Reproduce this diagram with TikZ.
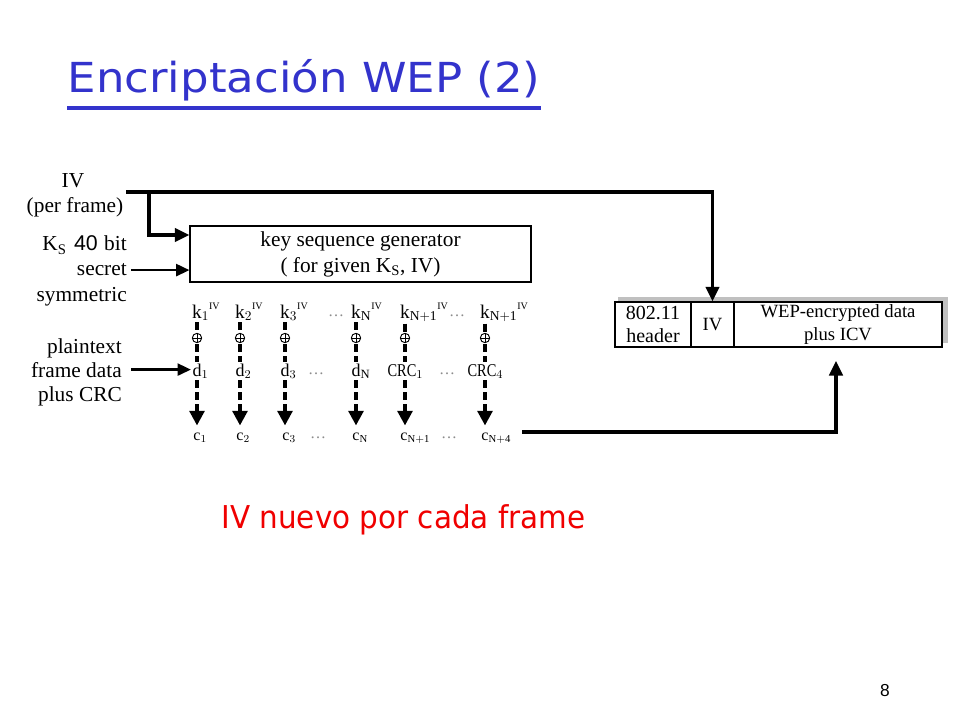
\documentclass[tikz,border=0pt]{standalone}
\usepackage{fontspec}
\usepackage{graphicx}
\setmainfont{Liberation Serif}
\newfontfamily\comicf{DejaVu Sans}
\newfontfamily\arialf{Liberation Sans}
\usetikzlibrary{arrows.meta}
\definecolor{titleblue}{RGB}{51,51,204}
\definecolor{slidered}{RGB}{240,0,0}
\definecolor{shadowgray}{RGB}{192,192,192}
\newcommand{\supIV}{\raisebox{6.5pt}{\fontsize{7.5}{7.5}\selectfont IV}}
\tikzset{
  lbl/.style={inner sep=0pt, font=\fontsize{16}{16}\selectfont},
  rowk/.style={inner sep=1pt, anchor=base, font=\fontsize{14.5}{14}\selectfont},
  rowd/.style={inner sep=1pt, anchor=base, font=\fontsize{13.5}{14}\selectfont},
  rowc/.style={inner sep=1pt, anchor=base, font=\fontsize{12}{12}\selectfont},
  xorn/.style={circle, draw, line width=0.7pt, minimum size=7pt, inner sep=0pt, outer sep=1pt,
    path picture={\draw[line width=0.7pt] (path picture bounding box.north) -- (path picture bounding box.south)
      (path picture bounding box.west) -- (path picture bounding box.east);}},
  dotsn/.style={inner sep=0pt, anchor=base, text=black!45, font=\fontsize{12}{12}\selectfont},
  solidarrow/.style={line width=2.6pt, -{Triangle[length=11pt,width=10pt]}},
  thinarrow/.style={line width=1.8pt, -{Triangle[length=10pt,width=9pt]}},
  dashseg/.style={line width=3pt, dash pattern=on 6pt off 3pt},
  dasharrow/.style={line width=3pt, dash pattern=on 6pt off 3pt, -{Triangle[length=11pt,width=11pt]}, shorten >=4pt},
  framecell/.style={draw, line width=0.8pt, minimum height=33.75pt, inner sep=0pt, align=center, font=\fontsize{14}{17.5}\selectfont},
}
\begin{document}
\begin{tikzpicture}[x=0.75pt,y=-0.75pt]
\useasboundingbox (0,0) rectangle (960,720);
\fill[white] (0,0) rectangle (960,720);

% title
\node[anchor=base, inner sep=0pt, text=titleblue, font=\comicf\fontsize{31}{31}\selectfont] (title) at (304,93)
  {\scalebox{1.09}[1]{Encriptación WEP (2)}};
\draw[titleblue, line width=3pt] (67,108.5) coordinate (ul1) -- (541,108.5) coordinate (ul2);

% left labels
\node[lbl, anchor=base] (ivlab) at (73,188) {IV};
\node[lbl, anchor=base] (perframe) at (75,213) {(per frame)};
\node[lbl, anchor=base east] (kslab) at (127,251) {K\textsubscript{\fontsize{11}{11}\selectfont S}\hspace{0.35em}{\arialf 40}\hspace{0.3em}bit};
\node[lbl, anchor=base east] (sec) at (127,276) {secret};
\node[lbl, anchor=base east] (sym) at (127,301) {symmetric};
\node[lbl, anchor=base east] (pl1) at (122,353) {plaintext};
\node[lbl, anchor=base east] (pl2) at (122,377) {frame data};
\node[lbl, anchor=base east] (pl3) at (122,401) {plus CRC};

% key sequence generator
\node[draw, line width=0.8pt, minimum width=255.75pt, minimum height=42pt, inner sep=0pt, align=center,
      font=\fontsize{16}{19.5}\selectfont] (gen) at (360.5,254)
  {key sequence generator\\( for given K\textsubscript{\fontsize{11}{11}\selectfont S}, IV)};

% row of key bytes
\node[rowk] (k1) at (197,318) {k\rlap{$_1$\supIV}};
\node[rowk] (k2) at (240,318) {k\rlap{$_2$\supIV}};
\node[rowk] (k3) at (285,318) {k\rlap{$_3$\supIV}};
\node[rowk] (k4) at (356,318) {k\rlap{$_{\mathrm{N}}$\supIV}};
\node[rowk] (k5) at (405,318) {k\rlap{$_{\mathrm{N+1}}$\supIV}};
\node[rowk] (k6) at (485,318) {k\rlap{$_{\mathrm{N+1}}$\supIV}};
\node[dotsn] (kd1) at (336,316) {\dots};
\node[dotsn] (kd2) at (457,316) {\dots};

% xor signs
\foreach \i/\x in {1/197,2/240,3/285,4/356,5/405,6/485}{
  \node[xorn] (x\i) at (\x,338) {};
}

% data bytes
\node[rowd] (d1) at (197,376) {d\rlap{$_1$}};
\node[rowd] (d2) at (240,376) {d\rlap{$_2$}};
\node[rowd] (d3) at (285,376) {d\rlap{$_3$}};
\node[rowd] (d4) at (356,376) {d\rlap{$_{\mathrm{N}}$}};
\node[rowd] (d5) at (402,376) {\scalebox{0.8}[1]{CRC}\rlap{$_1$}};
\node[rowd] (d6) at (482,376) {\scalebox{0.8}[1]{CRC}\rlap{$_4$}};
\node[dotsn] (dd1) at (316,374) {\dots};
\node[dotsn] (dd2) at (447,374) {\dots};

% cipher bytes
\node[rowc] (c1) at (197,440) {c\rlap{$_1$}};
\node[rowc] (c2) at (240,440) {c\rlap{$_2$}};
\node[rowc] (c3) at (286,440) {c\rlap{$_3$}};
\node[rowc] (c4) at (356,440) {c\rlap{$_{\mathrm{N}}$}};
\node[rowc] (c5) at (404,440) {c\rlap{$_{\mathrm{N+1}}$}};
\node[rowc] (c6) at (485,440) {c\rlap{$_{\mathrm{N+4}}$}};
\node[dotsn] (cd1) at (318,438) {\dots};
\node[dotsn] (cd2) at (449,438) {\dots};

\foreach \i in {1,...,6}{
  \draw[dashseg] (x\i |- k\i.south) -- (x\i.north);
  \draw[dashseg] (x\i.south) -- (x\i |- d\i.north);
  \draw[dasharrow] (x\i |- d\i.south) -- (x\i |- c\i.north);
}

% output frame
\fill[shadowgray] (618,297) rectangle (948,343);
\node[framecell, fill=white, minimum width=57pt, font=\fontsize{15}{17.5}\selectfont] (hdr) at (653,324.5) {802.11\\header};
\node[framecell, fill=white, minimum width=32.25pt] (ivf) at (712.5,324.5) {IV};
\node[framecell, fill=white, minimum width=156pt] (data) at (838,324.5) {WEP-encrypted data\\plus ICV};

% connectors
\coordinate (ivs) at (126,192);
\coordinate (ivb) at (149,192);
\draw[solidarrow] (ivs) -| (ivf.north);
\draw[solidarrow] (ivb) |- (gen.west |- 0,235);
\draw[thinarrow] ([xshift=3pt]sec.east) -- (sec.east -| gen.west);
\draw[thinarrow] ([xshift=7pt]pl2.east) -- (pl2.east -| d1.west);
\coordinate (cs) at (522,432);
\coordinate (ce) at (836,432);
\draw[solidarrow, shorten >=10pt] (cs) -- (ce) -- (ce |- data.south);

% note
\node[anchor=base, inner sep=0pt, text=slidered, font=\comicf\fontsize{23.6}{24}\selectfont] (note) at (403.5,528)
  {\scalebox{0.935}[1]{IV nuevo por cada frame}};

% page number
\node[inner sep=0pt, font=\arialf\fontsize{13}{13}\selectfont] (pnum) at (885,691) {8};
\end{tikzpicture}
\end{document}
